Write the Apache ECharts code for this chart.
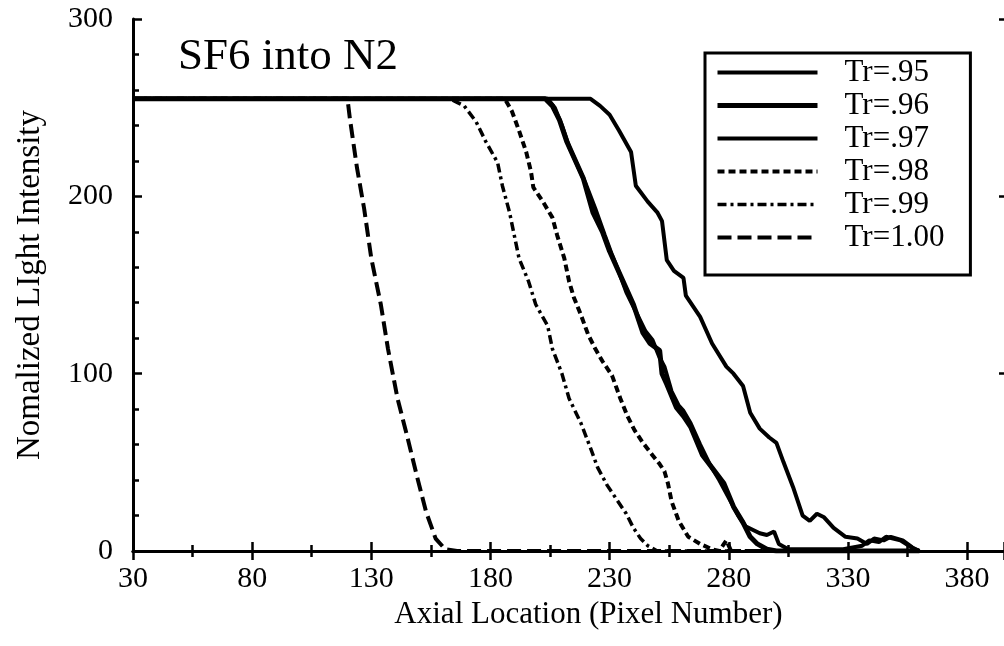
<!DOCTYPE html>
<html>
<head>
<meta charset="utf-8">
<title>SF6 into N2</title>
<script src="https://cdn.jsdelivr.net/npm/echarts@6/dist/echarts.min.js"></script>
<style>
  html, body { margin: 0; padding: 0; background: #fff; }
  #chart { width: 1004px; height: 646px; }
</style>
</head>
<body>
<div id="chart"></div>
<script>
// [pixel number, intensity]
const tr095 = [[30,255],[222,255],[226,251],[230,246],[234,237],[239,225],[241,206],[246,197],[250,191],[252,186],[254,164],[257,158],[261,154],[262,144],[268,132],[273,117],[279,104],[282,100],[286,93],[289,78],[293,69],[297,64],[300,61],[303,50],[307,36],[309,28],[311,20],[314,17],[317,21],[320,19],[324,13],[329,8],[334,7],[338,4],[341,7],[345,6],[348,8],[353,6],[357,2],[360,0]];
const tr096 = [[30,255],[203,255],[206,251],[209,243],[212,231],[215,222],[219,210],[223,191],[227,180],[230,169],[233,160],[237,148],[240,139],[244,123],[247,117],[251,113],[252,100],[254,94],[258,81],[261,76],[264,70],[269,54],[273,47],[278,38],[282,25],[286,16],[289,8],[292,4],[296,1],[300,0],[360,0]];
const tr097 = [[30,255],[204,255],[207,250],[210,240],[213,228],[216,219],[220,207],[224,193],[228,178],[231,167],[234,157],[237,146],[241,135],[245,124],[248,119],[251,109],[253,104],[256,90],[259,82],[261,79],[264,72],[268,60],[272,49],[276,40],[280,30],[284,20],[287,14],[290,12],[293,10],[296,9],[299,11],[301,4],[305,1],[328,1],[336,3],[339,6],[343,5],[346,8],[352,6],[358,1],[360,0]];
const tr098 = [[30,255],[186,255],[189,248],[192,237],[195,225],[197,214],[198,205],[202,197],[206,188],[208,178],[211,165],[213,152],[215,143],[218,133],[221,122],[224,114],[227,107],[231,99],[234.5,86],[237.5,76],[240.5,68],[244,61],[248,54],[251,49],[253,45],[254.5,38],[256,28],[259,17],[263,8],[268,4],[273,1],[276,0],[279,6],[281,0],[360,0]];
const tr099 = [[30,255],[163,255],[166,253],[169,251],[174,242],[178,231],[183,219],[185,206],[188,191],[190,178],[192,165],[196,152],[199,139],[204,127],[206,114],[210,100],[213,86],[218,72],[222,58],[225,47],[229,37],[233,29],[237,21],[240,13],[243,7],[246,3],[250,0],[360,0]];
const tr100 = [[30,255],[120,255],[121,244],[124,216],[127,193],[130,165],[134,139],[137,114],[141,86],[145,65],[149,43],[153,22],[157,7],[161,1],[166,0],[360,0]];

const seriesNames = ["Tr=.95", "Tr=.96", "Tr=.97", "Tr=.98", "Tr=.99", "Tr=1.00"];
const seriesData = [tr095, tr096, tr097, tr098, tr099, tr100];
const lineWidths = [4, 5, 4, 4, 3.5, 4];
const lineTypes = ["solid", "solid", "solid", [7, 4], [9, 4, 3, 4], [14, 6]];

const serif = "Liberation Serif";

const chart = echarts.init(document.getElementById("chart"));

const tickStyle = { color: "#000", width: 2.5 };

chart.setOption({
  backgroundColor: "#fff",
  animation: false,
  title: {
    text: "SF6 into N2",
    left: 173,
    top: 30,
    textStyle: { fontFamily: serif, fontSize: 45, fontWeight: "normal", color: "#000" }
  },
  legend: {
    data: seriesNames,
    orient: "vertical",
    left: 705,
    top: 53,
    padding: [4, 26, 22, 10],
    itemWidth: 100,
    itemHeight: 14,
    itemGap: 2,
    borderColor: "#000",
    borderWidth: 3,
    itemStyle: { opacity: 0 },
    lineStyle: { width: "inherit" },
    textStyle: {
      fontFamily: serif,
      fontSize: 31,
      lineHeight: 31,
      color: "#000",
      padding: [0, 0, 0, 22]
    }
  },
  // the scan is cut off on the right, so the frame's right side is not drawn
  grid: {
    left: 133,
    top: 19,
    right: 0,
    bottom: 95
  },
  xAxis: [
    {
      type: "value",
      min: 30,
      max: 395.5,
      interval: 50,
      name: "Axial Location (Pixel Number)",
      nameLocation: "middle",
      nameGap: 34,
      nameTextStyle: { fontFamily: serif, fontSize: 31, color: "#000", padding: [0, 0, 0, 40] },
      axisLine: { lineStyle: { color: "#000", width: 3 } },
      axisTick: { inside: true, length: 9, lineStyle: tickStyle },
      minorTick: { show: true, splitNumber: 2, length: 6, lineStyle: tickStyle },
      axisLabel: { fontFamily: serif, fontSize: 30, color: "#000", margin: 13, showMaxLabel: false },
      splitLine: { show: false }
    },
    {
      type: "value",
      position: "top",
      min: 30,
      max: 395.5,
      interval: 50,
      axisLine: { lineStyle: { color: "#000", width: 3 } },
      axisTick: { inside: true, length: 9, lineStyle: tickStyle },
      minorTick: { show: true, splitNumber: 2, length: 6, lineStyle: tickStyle },
      axisLabel: { show: false },
      splitLine: { show: false }
    }
  ],
  yAxis: [
    {
      type: "value",
      min: 0,
      max: 300,
      interval: 100,
      name: "Nomalized LIght Intensity",
      nameLocation: "middle",
      nameGap: 86,
      nameTextStyle: { fontFamily: serif, fontSize: 33, color: "#000" },
      axisLine: { show: true, lineStyle: { color: "#000", width: 3 } },
      axisTick: { show: true, inside: true, length: 9, lineStyle: tickStyle },
      minorTick: { show: true, splitNumber: 5, length: 6, lineStyle: tickStyle },
      axisLabel: { fontFamily: serif, fontSize: 30, color: "#000", margin: 20 },
      splitLine: { show: false }
    },
    {
      type: "value",
      position: "right",
      min: 0,
      max: 300,
      interval: 100,
      axisLine: { show: false },
      axisTick: { show: true, inside: true, length: 5, lineStyle: tickStyle },
      axisLabel: { show: false },
      splitLine: { show: false }
    }
  ],
  series: seriesData.map((data, i) => ({
    name: seriesNames[i],
    type: "line",
    data: data,
    symbol: "none",
    z: 10 - i,
    lineStyle: { color: "#000", width: lineWidths[i], type: lineTypes[i] },
    itemStyle: { color: "#000" }
  }))
});
</script>
</body>
</html>
